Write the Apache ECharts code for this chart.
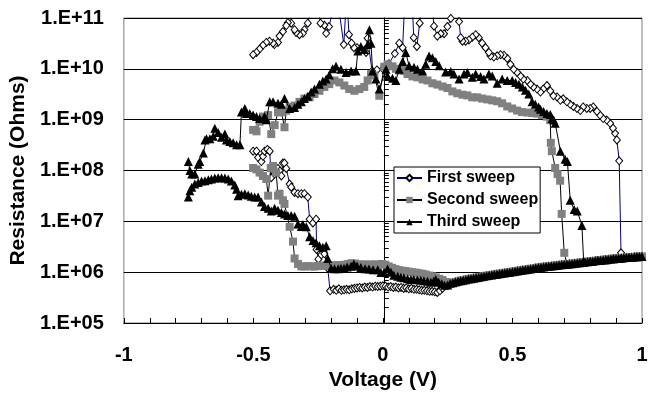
<!DOCTYPE html>
<html><head><meta charset="utf-8">
<script src="https://cdn.jsdelivr.net/npm/echarts@6/dist/echarts.min.js"></script>
<style>html,body{margin:0;padding:0;background:#fff}#c{width:653px;height:396px}</style>
</head><body><div id="c"></div>
<script>
// ---- data: [voltage (V), resistance (Ohms)] ----
const seriesNames = ['First sweep', 'Second sweep', 'Third sweep'];
const voltageRange = [-1, 1];
const resistanceRange = [1e5, 1e11];

// common low-resistance branch shared by all sweeps (0.26 V -> 1 V)
const sharedBranch = [[0.26,6.05e5],[0.27,6.2e5],[0.28,6.4e5],[0.29,6.6e5],[0.30,6.8e5],[0.31,6.95e5],[0.32,7.1e5],[0.33,7.3e5],[0.34,7.45e5],[0.35,7.6e5],[0.36,7.8e5],[0.37,7.95e5],[0.38,8.15e5],[0.39,8.3e5],[0.40,8.5e5],[0.41,8.65e5],[0.42,8.8e5],[0.43,9.0e5],[0.44,9.15e5],[0.45,9.3e5],[0.46,9.5e5],[0.47,9.65e5],[0.48,9.85e5],[0.49,1.0e6],[0.50,1.02e6],[0.51,1.04e6],[0.52,1.06e6],[0.53,1.08e6],[0.54,1.10e6],[0.55,1.12e6],[0.56,1.14e6],[0.57,1.16e6],[0.58,1.18e6],[0.59,1.21e6],[0.60,1.23e6],[0.61,1.25e6],[0.62,1.27e6],[0.63,1.29e6],[0.64,1.31e6],[0.65,1.32e6],[0.66,1.34e6],[0.67,1.36e6],[0.68,1.38e6],[0.69,1.40e6],[0.70,1.41e6],[0.71,1.43e6],[0.72,1.45e6],[0.73,1.47e6],[0.74,1.49e6],[0.75,1.51e6],[0.76,1.53e6],[0.77,1.55e6],[0.78,1.58e6],[0.79,1.60e6],[0.80,1.62e6],[0.81,1.64e6],[0.82,1.67e6],[0.83,1.69e6],[0.84,1.72e6],[0.85,1.74e6],[0.86,1.76e6],[0.87,1.79e6],[0.88,1.81e6],[0.89,1.84e6],[0.90,1.86e6],[0.91,1.88e6],[0.92,1.90e6],[0.93,1.92e6],[0.94,1.94e6],[0.95,1.95e6],[0.96,1.97e6],[0.97,1.99e6],[0.98,2.01e6],[0.99,2.03e6],[1.00,2.04e6]];

// First sweep
const firstForward = [[-0.501,2.4e8],[-0.488,2.4e8],[-0.482,1.8e8],[-0.469,1.5e8],[-0.463,1.9e8],[-0.457,2.4e8],[-0.446,2.6e8],[-0.437,2.4e8],[-0.431,7.2e7],[-0.418,8.5e7],[-0.405,1.1e8],[-0.398,9.8e7],[-0.392,7.8e7],[-0.386,1.4e8],[-0.380,1.4e8],[-0.373,1.1e8],[-0.360,5.4e7],[-0.354,4.7e7],[-0.341,3.7e7],[-0.328,3.5e7],[-0.315,3.5e7],[-0.303,3.5e7],[-0.290,3.0e7],[-0.283,1.1e7],[-0.270,9.3e6],[-0.258,1.1e7],[-0.256,2.8e6],[-0.249,1.8e6],[-0.238,2.2e6],[-0.226,2.3e6],[-0.213,1.2e6],[-0.204,4.3e5],[-0.19,4.6e5],[-0.18,4.4e5],[-0.17,4.7e5],[-0.16,4.4e5],[-0.15,4.5e5],[-0.14,4.6e5],[-0.13,4.5e5],[-0.12,4.7e5],[-0.11,4.8e5],[-0.10,4.9e5],[-0.09,5.0e5],[-0.08,4.9e5],[-0.07,5.1e5],[-0.06,5.0e5],[-0.05,5.2e5],[-0.04,5.1e5],[-0.03,5.3e5],[-0.02,5.2e5],[-0.01,5.3e5],[0,5.4e5],[0.01,5.3e5],[0.02,5.1e5],[0.03,5.2e5],[0.04,5.0e5],[0.05,5.1e5],[0.06,4.9e5],[0.07,5.0e5],[0.08,4.8e5],[0.09,4.9e5],[0.10,4.7e5],[0.11,4.8e5],[0.12,4.6e5],[0.13,4.6e5],[0.14,4.5e5],[0.15,4.4e5],[0.16,4.4e5],[0.17,4.3e5],[0.18,4.2e5],[0.19,4.2e5],[0.20,4.1e5],[0.21,4.0e5],[0.22,4.3e5],[0.23,4.8e5],[0.24,5.4e5],[0.25,5.9e5]];
const firstReturn = [[0.97,1.99e6],[0.94,1.94e6],[0.919,2.4e6],[0.912,1.55e8],[0.903,4.0e8],[0.896,5.4e8],[0.888,6.8e8],[0.877,8.5e8],[0.864,9.8e8],[0.850,1.05e9],[0.838,1.23e9],[0.826,1.45e9],[0.812,1.78e9],[0.800,1.66e9],[0.787,1.66e9],[0.773,1.78e9],[0.762,1.51e9],[0.749,1.66e9],[0.735,1.82e9],[0.723,2.0e9],[0.710,2.24e9],[0.696,2.57e9],[0.685,2.4e9],[0.672,2.8e9],[0.658,2.95e9],[0.646,3.7e9],[0.633,4.7e9],[0.619,4.0e9],[0.608,3.5e9],[0.595,4.0e9],[0.581,4.4e9],[0.569,5.0e9],[0.557,5.9e9],[0.542,6.3e9],[0.531,7.2e9],[0.518,8.5e9],[0.505,9.8e9],[0.492,1.23e10],[0.480,1.6e10],[0.467,1.86e10],[0.454,1.9e10],[0.441,1.8e10],[0.428,1.7e10],[0.415,1.8e10],[0.409,2.1e10],[0.396,2.6e10],[0.383,3.2e10],[0.370,4.1e10],[0.358,4.7e10],[0.345,4.2e10],[0.332,3.7e10],[0.319,3.5e10],[0.307,3.5e10],[0.300,4.1e10],[0.294,8.5e10],[0.281,2.5e11],[0.262,9.8e10],[0.249,6.8e10],[0.236,4.9e10],[0.223,4.9e10],[0.210,4.4e10],[0.197,6.9e10],[0.185,3.2e11],[0.154,3.2e11],[0.142,7.9e10],[0.131,2.75e10],[0.119,4.1e10],[0.112,2.5e11],[0.085,2.5e11],[0.076,2.6e10],[0.063,3.2e10],[0.046,2.0e10],[0.023,1.26e10],[0.0,1.0e10],[-0.023,9.5e9],[-0.042,9.1e9],[-0.059,4.0e10],[-0.065,2.1e10],[-0.085,2.4e10],[-0.100,2.6e10],[-0.112,2.6e10],[-0.121,3.2e10],[-0.131,4.7e10],[-0.140,3.0e11],[-0.151,3.0e10],[-0.178,3.0e11],[-0.208,6.8e10],[-0.219,5.0e10],[-0.226,7.2e10],[-0.241,7.9e10],[-0.262,3.0e11],[-0.290,7.9e10],[-0.303,5.9e10],[-0.309,5.0e10],[-0.322,4.7e10],[-0.335,5.2e10],[-0.341,5.9e10],[-0.354,7.9e10],[-0.367,8.1e10],[-0.373,7.1e10],[-0.386,5.4e10],[-0.399,4.4e10],[-0.405,3.3e10],[-0.419,3.0e10],[-0.424,3.2e10],[-0.438,3.5e10],[-0.450,3.3e10],[-0.463,2.9e10],[-0.476,2.45e10],[-0.488,2.1e10],[-0.501,1.9e10]];

// Second sweep
const secondForward = [[-0.501,1.12e8],[-0.488,1.05e8],[-0.476,9.1e7],[-0.463,7.8e7],[-0.450,6.8e7],[-0.443,3.2e7],[-0.433,1.12e8],[-0.424,1.23e8],[-0.412,9.1e7],[-0.405,3.2e7],[-0.399,3.5e7],[-0.386,2.6e7],[-0.380,2.2e7],[-0.360,7.8e6],[-0.347,4.0e6],[-0.341,1.86e6],[-0.328,1.45e6],[-0.315,1.3e6],[-0.303,1.29e6],[-0.290,1.32e6],[-0.277,1.3e6],[-0.264,1.29e6],[-0.251,1.32e6],[-0.238,1.35e6],[-0.225,1.33e6],[-0.212,1.35e6],[-0.199,1.34e6],[-0.186,1.36e6],[-0.173,1.38e6],[-0.160,1.36e6],[-0.147,1.4e6],[-0.134,1.45e6],[-0.121,1.5e6],[-0.108,1.48e6],[-0.095,1.42e6],[-0.082,1.4e6],[-0.069,1.42e6],[-0.056,1.4e6],[-0.043,1.41e6],[-0.030,1.42e6],[-0.017,1.4e6],[-0.004,1.45e6],[0.009,1.4e6],[0.022,1.3e6],[0.035,1.22e6],[0.048,1.15e6],[0.061,1.1e6],[0.074,1.07e6],[0.087,1.05e6],[0.100,1.02e6],[0.113,1.0e6],[0.126,9.8e5],[0.139,9.5e5],[0.152,9.3e5],[0.165,9.0e5],[0.178,8.6e5],[0.191,8.3e5],[0.204,7.9e5],[0.217,7.4e5],[0.230,7.0e5],[0.243,6.4e5]];
const secondReturn = [[0.98,2.01e6],[0.95,1.95e6],[0.92,1.9e6],[0.89,1.84e6],[0.86,1.76e6],[0.83,1.69e6],[0.80,1.62e6],[0.77,1.55e6],[0.74,1.49e6],[0.71,1.43e6],[0.700,2.4e6],[0.690,1.4e7],[0.684,6.3e7],[0.674,8.5e7],[0.665,1.12e8],[0.652,2.4e8],[0.648,3.5e8],[0.646,9.8e8],[0.633,1.15e9],[0.614,1.23e9],[0.595,1.32e9],[0.576,1.35e9],[0.557,1.38e9],[0.537,1.41e9],[0.518,1.51e9],[0.499,1.66e9],[0.480,1.82e9],[0.460,2.1e9],[0.441,2.3e9],[0.422,2.4e9],[0.403,2.5e9],[0.383,2.6e9],[0.364,2.75e9],[0.345,2.75e9],[0.326,3.0e9],[0.307,3.1e9],[0.287,3.3e9],[0.268,3.6e9],[0.249,4.2e9],[0.230,4.5e9],[0.210,4.9e9],[0.191,5.2e9],[0.172,5.9e9],[0.153,6.2e9],[0.133,6.8e9],[0.114,7.1e9],[0.095,7.9e9],[0.082,9.1e9],[0.076,9.8e9],[0.063,9.3e9],[0.050,1.0e10],[0.037,1.12e10],[0.018,1.23e10],[0.005,1.1e10],[-0.014,2.95e9],[-0.033,7.4e9],[-0.046,7.9e9],[-0.059,5.9e9],[-0.072,4.4e9],[-0.091,4.0e9],[-0.110,3.7e9],[-0.130,4.0e9],[-0.149,4.7e9],[-0.168,5.4e9],[-0.187,5.9e9],[-0.207,5.0e9],[-0.226,4.4e9],[-0.245,3.7e9],[-0.264,3.2e9],[-0.283,2.75e9],[-0.303,2.6e9],[-0.322,2.24e9],[-0.341,1.9e9],[-0.360,1.78e9],[-0.373,1.5e9],[-0.380,7.1e8],[-0.392,1.4e9],[-0.405,1.4e9],[-0.418,7.8e8],[-0.431,5.2e8],[-0.443,1.23e9],[-0.463,1.15e9],[-0.476,9.1e8],[-0.488,5.9e8],[-0.501,6.3e8]];

// Third sweep
const thirdForward = [[-0.751,3.0e7],[-0.745,4.0e7],[-0.738,4.7e7],[-0.726,5.4e7],[-0.713,5.8e7],[-0.700,6.2e7],[-0.687,6.3e7],[-0.674,6.6e7],[-0.662,6.8e7],[-0.649,7.1e7],[-0.636,7.2e7],[-0.623,7.2e7],[-0.610,7.1e7],[-0.597,6.8e7],[-0.585,6.2e7],[-0.572,5.2e7],[-0.565,4.3e7],[-0.559,3.2e7],[-0.546,3.4e7],[-0.533,3.5e7],[-0.520,3.3e7],[-0.508,3.1e7],[-0.495,3.0e7],[-0.482,3.0e7],[-0.469,2.4e7],[-0.457,1.95e7],[-0.443,1.8e7],[-0.431,1.6e7],[-0.418,1.8e7],[-0.405,1.66e7],[-0.392,1.5e7],[-0.380,1.4e7],[-0.367,1.3e7],[-0.354,1.3e7],[-0.341,1.26e7],[-0.328,8.9e6],[-0.315,7.9e6],[-0.309,8.7e6],[-0.296,7.8e6],[-0.283,5.0e6],[-0.270,4.2e6],[-0.258,3.8e6],[-0.245,3.3e6],[-0.232,3.1e6],[-0.219,3.3e6],[-0.213,1.86e6],[-0.200,1.2e6],[-0.187,1.17e6],[-0.173,1.17e6],[-0.162,1.2e6],[-0.150,1.2e6],[-0.138,1.26e6],[-0.123,1.3e6],[-0.112,1.45e6],[-0.100,1.32e6],[-0.085,1.23e6],[-0.069,1.17e6],[-0.054,1.15e6],[-0.038,1.12e6],[-0.020,1.12e6],[-0.008,9.8e5],[0.004,9.8e5],[0.018,1.15e6],[0.031,1.0e6],[0.042,8.7e5],[0.057,8.3e5],[0.069,7.9e5],[0.081,7.8e5],[0.095,7.4e5],[0.108,7.2e5],[0.119,7.2e5],[0.133,7.1e5],[0.146,6.9e5],[0.158,6.8e5],[0.172,6.6e5],[0.185,6.3e5],[0.196,6.6e5],[0.204,7.2e5],[0.215,6.3e5],[0.227,5.9e5],[0.238,5.5e5],[0.25,5.6e5]];
const thirdReturn = [[0.98,2.01e6],[0.95,1.95e6],[0.92,1.9e6],[0.89,1.84e6],[0.86,1.76e6],[0.83,1.69e6],[0.80,1.62e6],[0.775,1.56e6],[0.768,8.3e6],[0.750,1.6e7],[0.738,1.7e7],[0.723,2.6e7],[0.712,1.5e8],[0.703,1.66e8],[0.685,2.4e8],[0.665,8.5e8],[0.659,9.8e8],[0.653,1.05e9],[0.646,1.26e9],[0.633,1.32e9],[0.620,1.45e9],[0.608,1.6e9],[0.601,1.78e9],[0.588,2.0e9],[0.576,2.24e9],[0.563,3.2e9],[0.550,3.8e9],[0.538,4.4e9],[0.525,5.0e9],[0.512,5.4e9],[0.499,5.9e9],[0.480,5.9e9],[0.460,6.3e9],[0.441,5.2e9],[0.422,7.2e9],[0.409,7.9e9],[0.390,6.3e9],[0.377,7.1e9],[0.358,7.9e9],[0.345,6.8e9],[0.326,8.5e9],[0.313,7.9e9],[0.294,6.3e9],[0.274,7.9e9],[0.262,8.9e9],[0.242,8.7e9],[0.217,1.15e10],[0.204,1.4e10],[0.191,1.66e10],[0.178,1.78e10],[0.165,1.23e10],[0.153,9.1e9],[0.133,9.8e9],[0.120,1.07e10],[0.101,1.15e10],[0.088,2.1e10],[0.076,1.4e10],[0.063,9.8e9],[0.050,5.9e9],[0.037,6.5e9],[0.018,7.2e9],[0.012,9.8e9],[-0.014,4.0e9],[-0.027,6.3e9],[-0.040,9.1e9],[-0.046,3.2e10],[-0.052,5.9e10],[-0.059,3.0e10],[-0.072,2.4e10],[-0.085,2.75e10],[-0.097,2.24e10],[-0.104,9.1e9],[-0.123,9.1e9],[-0.142,8.5e9],[-0.162,9.8e9],[-0.181,1.12e10],[-0.194,1.0e10],[-0.207,7.6e9],[-0.219,6.3e9],[-0.232,5.75e9],[-0.245,5.0e9],[-0.264,4.0e9],[-0.277,3.5e9],[-0.290,2.9e9],[-0.303,2.6e9],[-0.315,2.24e9],[-0.328,2.0e9],[-0.341,1.74e9],[-0.360,1.66e9],[-0.380,2.6e9],[-0.392,2.0e9],[-0.405,2.1e9],[-0.424,2.24e9],[-0.437,2.24e9],[-0.450,1.0e9],[-0.457,1.15e9],[-0.476,1.05e9],[-0.488,1.15e9],[-0.501,1.23e9],[-0.514,1.32e9],[-0.527,1.32e9],[-0.533,1.66e9],[-0.546,1.41e9],[-0.552,3.2e8],[-0.565,3.2e8],[-0.578,3.5e8],[-0.591,3.7e8],[-0.604,4.0e8],[-0.610,5.2e8],[-0.623,4.5e8],[-0.636,5.6e8],[-0.649,6.8e8],[-0.655,4.7e8],[-0.668,4.2e8],[-0.681,4.2e8],[-0.687,4.0e8],[-0.693,2.2e8],[-0.707,1.5e8],[-0.713,1.32e8],[-0.726,8.5e7],[-0.738,8.5e7],[-0.745,1.0e8],[-0.751,1.5e8]];

const firstSweep = firstForward.concat(sharedBranch, firstReturn);
const secondSweep = secondForward.concat(sharedBranch, secondReturn);
const thirdSweep = thirdForward.concat(sharedBranch, thirdReturn);

// ---- chart ----
const FONT = '"Liberation Sans", Arial, sans-serif';
const chart = echarts.init(document.getElementById('c'), null, {renderer: 'canvas'});
const baseSeries = {type: 'line', showAllSymbol: true, clip: true, animation: false};
chart.setOption({
  animation: false,
  backgroundColor: '#ffffff',
  textStyle: {fontFamily: FONT},
  grid: {left: 122, right: 11, top: 18, bottom: 68, show: true, borderColor: '#808080', borderWidth: 1},
  legend: {
    data: seriesNames, orient: 'vertical', left: 394, top: 167,
    itemWidth: 25, itemHeight: 8, itemGap: 4, padding: [2, 2, 2, 2],
    borderColor: '#000', borderWidth: 1, backgroundColor: '#fff',
    textStyle: {fontSize: 16, fontWeight: 'bold', color: '#000', fontFamily: FONT, lineHeight: 18}
  },
  xAxis: {
    type: 'value', min: voltageRange[0], max: voltageRange[1], interval: 0.1,
    axisLine: {onZero: false, lineStyle: {color: '#000', width: 1}},
    axisTick: {inside: true, length: 5, lineStyle: {color: '#000'}},
    axisLabel: {
      margin: 22, fontSize: 20, fontWeight: 'bold', color: '#000', fontFamily: FONT,
      formatter: v => { const t = Math.round(v * 10); return t % 5 === 0 ? String(t / 10) : ''; }
    },
    splitLine: {show: false},
    name: 'Voltage (V)', nameLocation: 'middle', nameGap: 47,
    nameTextStyle: {fontSize: 21, fontWeight: 'bold', color: '#000', fontFamily: FONT}
  },
  yAxis: [{
    type: 'log', logBase: 10, min: resistanceRange[0], max: resistanceRange[1],
    axisLine: {show: false}, axisTick: {show: false},
    axisLabel: {
      margin: 20, fontSize: 20, fontWeight: 'bold', color: '#000', fontFamily: FONT,
      formatter: v => '1.E+' + String(Math.round(Math.log10(v))).padStart(2, '0')
    },
    splitLine: {show: true, lineStyle: {color: '#000', width: 1}},
    name: 'Resistance (Ohms)', nameLocation: 'middle', nameGap: 80,
    nameTextStyle: {fontSize: 21, fontWeight: 'bold', color: '#000', fontFamily: FONT}
  }, {
    type: 'log', logBase: 10, min: resistanceRange[0], max: resistanceRange[1], position: 'left',
    offset: -260,
    axisLine: {show: true, onZero: false, lineStyle: {color: '#000', width: 1}},
    axisTick: {show: true, inside: true, length: 6, lineStyle: {color: '#000'}},
    minorTick: {show: true, splitNumber: 9, length: 5, lineStyle: {color: '#000'}},
    axisLabel: {show: false}, splitLine: {show: false}
  }],
  series: [
    Object.assign({}, baseSeries, {
      name: seriesNames[0], data: firstSweep, symbol: 'diamond', symbolSize: [7, 8],
      itemStyle: {color: '#ffffff', borderColor: '#000', borderWidth: 1},
      lineStyle: {color: '#000080', width: 1}, z: 2
    }),
    Object.assign({}, baseSeries, {
      name: seriesNames[1], data: secondSweep, symbol: 'rect', symbolSize: 8,
      itemStyle: {color: '#808080', borderWidth: 0},
      lineStyle: {color: '#000', width: 1}, z: 3
    }),
    Object.assign({}, baseSeries, {
      name: seriesNames[2], data: thirdSweep, symbol: 'triangle', symbolSize: 9,
      itemStyle: {color: '#000', borderWidth: 0},
      lineStyle: {color: '#000', width: 1}, z: 4
    })
  ]
});
</script>
</body></html>
